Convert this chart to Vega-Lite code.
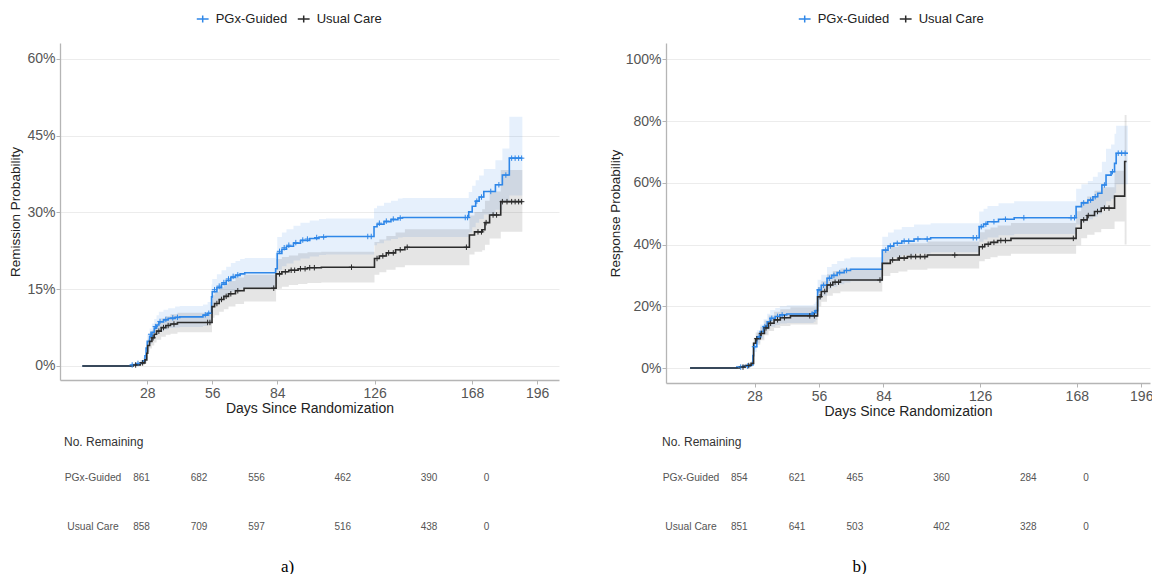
{
  "$schema": "https://vega.github.io/schema/vega-lite/v6.json",
  "background": "white",
  "padding": {"left": 8, "top": 12, "right": 0, "bottom": 0},
  "config": {
    "view": {"stroke": null},
    "font": "Liberation Sans",
    "axis": {
      "labelFont": "Liberation Sans", "labelFontSize": 14, "labelColor": "#555555",
      "titleFont": "Liberation Sans", "titleFontWeight": "normal", "titleColor": "#222222",
      "domainColor": "#b5b5b5", "domainWidth": 1.3, "tickColor": "#b5b5b5", "tickSize": 4,
      "gridColor": "#ececec", "gridWidth": 1
    },
    "legend": {"labelFont": "Liberation Sans"}
  },
  "datasets": {
    "km": [
      {"panel":"a","group":"PGx-Guided","day":0,"p":0,"lo":0,"hi":0},
      {"panel":"a","group":"PGx-Guided","day":21,"p":0.002,"lo":0,"hi":0.005},
      {"panel":"a","group":"PGx-Guided","day":23,"p":0.004,"lo":0.001,"hi":0.008},
      {"panel":"a","group":"PGx-Guided","day":25,"p":0.006,"lo":0.002,"hi":0.011},
      {"panel":"a","group":"PGx-Guided","day":26,"p":0.010,"lo":0.004,"hi":0.016},
      {"panel":"a","group":"PGx-Guided","day":27,"p":0.020,"lo":0.011,"hi":0.029},
      {"panel":"a","group":"PGx-Guided","day":27.5,"p":0.035,"lo":0.024,"hi":0.047},
      {"panel":"a","group":"PGx-Guided","day":28,"p":0.048,"lo":0.035,"hi":0.062},
      {"panel":"a","group":"PGx-Guided","day":29,"p":0.058,"lo":0.043,"hi":0.073},
      {"panel":"a","group":"PGx-Guided","day":30,"p":0.066,"lo":0.050,"hi":0.083},
      {"panel":"a","group":"PGx-Guided","day":31,"p":0.074,"lo":0.057,"hi":0.092},
      {"panel":"a","group":"PGx-Guided","day":32,"p":0.080,"lo":0.062,"hi":0.099},
      {"panel":"a","group":"PGx-Guided","day":33,"p":0.086,"lo":0.067,"hi":0.106},
      {"panel":"a","group":"PGx-Guided","day":35,"p":0.090,"lo":0.071,"hi":0.110},
      {"panel":"a","group":"PGx-Guided","day":37,"p":0.093,"lo":0.074,"hi":0.113},
      {"panel":"a","group":"PGx-Guided","day":40,"p":0.095,"lo":0.075,"hi":0.116},
      {"panel":"a","group":"PGx-Guided","day":42,"p":0.096,"lo":0.076,"hi":0.117},
      {"panel":"a","group":"PGx-Guided","day":52,"p":0.099,"lo":0.078,"hi":0.120},
      {"panel":"a","group":"PGx-Guided","day":54,"p":0.103,"lo":0.082,"hi":0.125},
      {"panel":"a","group":"PGx-Guided","day":55.7,"p":0.135,"lo":0.111,"hi":0.159},
      {"panel":"a","group":"PGx-Guided","day":56,"p":0.145,"lo":0.120,"hi":0.170},
      {"panel":"a","group":"PGx-Guided","day":58,"p":0.153,"lo":0.127,"hi":0.179},
      {"panel":"a","group":"PGx-Guided","day":60,"p":0.160,"lo":0.133,"hi":0.187},
      {"panel":"a","group":"PGx-Guided","day":62,"p":0.167,"lo":0.139,"hi":0.194},
      {"panel":"a","group":"PGx-Guided","day":64,"p":0.173,"lo":0.145,"hi":0.201},
      {"panel":"a","group":"PGx-Guided","day":66,"p":0.177,"lo":0.148,"hi":0.205},
      {"panel":"a","group":"PGx-Guided","day":68,"p":0.180,"lo":0.151,"hi":0.209},
      {"panel":"a","group":"PGx-Guided","day":70,"p":0.182,"lo":0.153,"hi":0.211},
      {"panel":"a","group":"PGx-Guided","day":83.3,"p":0.190,"lo":0.160,"hi":0.220},
      {"panel":"a","group":"PGx-Guided","day":84,"p":0.220,"lo":0.188,"hi":0.252},
      {"panel":"a","group":"PGx-Guided","day":86,"p":0.228,"lo":0.195,"hi":0.261},
      {"panel":"a","group":"PGx-Guided","day":88,"p":0.234,"lo":0.200,"hi":0.267},
      {"panel":"a","group":"PGx-Guided","day":91,"p":0.240,"lo":0.206,"hi":0.274},
      {"panel":"a","group":"PGx-Guided","day":94,"p":0.245,"lo":0.210,"hi":0.280},
      {"panel":"a","group":"PGx-Guided","day":98,"p":0.249,"lo":0.214,"hi":0.284},
      {"panel":"a","group":"PGx-Guided","day":102,"p":0.252,"lo":0.217,"hi":0.287},
      {"panel":"a","group":"PGx-Guided","day":105,"p":0.253,"lo":0.218,"hi":0.288},
      {"panel":"a","group":"PGx-Guided","day":125.7,"p":0.272,"lo":0.236,"hi":0.308},
      {"panel":"a","group":"PGx-Guided","day":127,"p":0.277,"lo":0.240,"hi":0.313},
      {"panel":"a","group":"PGx-Guided","day":130,"p":0.282,"lo":0.245,"hi":0.319},
      {"panel":"a","group":"PGx-Guided","day":133,"p":0.286,"lo":0.248,"hi":0.323},
      {"panel":"a","group":"PGx-Guided","day":136,"p":0.289,"lo":0.251,"hi":0.327},
      {"panel":"a","group":"PGx-Guided","day":138,"p":0.290,"lo":0.252,"hi":0.328},
      {"panel":"a","group":"PGx-Guided","day":166.5,"p":0.301,"lo":0.261,"hi":0.340},
      {"panel":"a","group":"PGx-Guided","day":168,"p":0.312,"lo":0.271,"hi":0.352},
      {"panel":"a","group":"PGx-Guided","day":169.5,"p":0.322,"lo":0.280,"hi":0.363},
      {"panel":"a","group":"PGx-Guided","day":171,"p":0.330,"lo":0.287,"hi":0.372},
      {"panel":"a","group":"PGx-Guided","day":173,"p":0.341,"lo":0.296,"hi":0.385},
      {"panel":"a","group":"PGx-Guided","day":178,"p":0.354,"lo":0.305,"hi":0.402},
      {"panel":"a","group":"PGx-Guided","day":181,"p":0.373,"lo":0.320,"hi":0.425},
      {"panel":"a","group":"PGx-Guided","day":184,"p":0.406,"lo":0.333,"hi":0.487},
      {"panel":"a","group":"PGx-Guided","day":189.6,"p":0.406,"lo":0.333,"hi":0.487},
      {"panel":"a","group":"Usual Care","day":0,"p":0,"lo":0,"hi":0},
      {"panel":"a","group":"Usual Care","day":22,"p":0.002,"lo":0,"hi":0.005},
      {"panel":"a","group":"Usual Care","day":25,"p":0.006,"lo":0.002,"hi":0.011},
      {"panel":"a","group":"Usual Care","day":27,"p":0.012,"lo":0.005,"hi":0.019},
      {"panel":"a","group":"Usual Care","day":27.8,"p":0.025,"lo":0.015,"hi":0.035},
      {"panel":"a","group":"Usual Care","day":28.2,"p":0.040,"lo":0.028,"hi":0.053},
      {"panel":"a","group":"Usual Care","day":29,"p":0.048,"lo":0.034,"hi":0.062},
      {"panel":"a","group":"Usual Care","day":30,"p":0.055,"lo":0.040,"hi":0.070},
      {"panel":"a","group":"Usual Care","day":31,"p":0.062,"lo":0.046,"hi":0.078},
      {"panel":"a","group":"Usual Care","day":32,"p":0.068,"lo":0.051,"hi":0.085},
      {"panel":"a","group":"Usual Care","day":34,"p":0.075,"lo":0.057,"hi":0.093},
      {"panel":"a","group":"Usual Care","day":36,"p":0.079,"lo":0.061,"hi":0.097},
      {"panel":"a","group":"Usual Care","day":38,"p":0.082,"lo":0.063,"hi":0.101},
      {"panel":"a","group":"Usual Care","day":41,"p":0.085,"lo":0.066,"hi":0.104},
      {"panel":"a","group":"Usual Care","day":55.9,"p":0.116,"lo":0.094,"hi":0.138},
      {"panel":"a","group":"Usual Care","day":57,"p":0.122,"lo":0.099,"hi":0.145},
      {"panel":"a","group":"Usual Care","day":59,"p":0.130,"lo":0.106,"hi":0.154},
      {"panel":"a","group":"Usual Care","day":61,"p":0.136,"lo":0.111,"hi":0.161},
      {"panel":"a","group":"Usual Care","day":63,"p":0.141,"lo":0.116,"hi":0.166},
      {"panel":"a","group":"Usual Care","day":66,"p":0.147,"lo":0.121,"hi":0.173},
      {"panel":"a","group":"Usual Care","day":69.7,"p":0.152,"lo":0.126,"hi":0.178},
      {"panel":"a","group":"Usual Care","day":83.5,"p":0.180,"lo":0.151,"hi":0.209},
      {"panel":"a","group":"Usual Care","day":86,"p":0.184,"lo":0.155,"hi":0.213},
      {"panel":"a","group":"Usual Care","day":89,"p":0.187,"lo":0.158,"hi":0.216},
      {"panel":"a","group":"Usual Care","day":93,"p":0.190,"lo":0.160,"hi":0.220},
      {"panel":"a","group":"Usual Care","day":97,"p":0.192,"lo":0.162,"hi":0.222},
      {"panel":"a","group":"Usual Care","day":103,"p":0.193,"lo":0.163,"hi":0.223},
      {"panel":"a","group":"Usual Care","day":125.9,"p":0.210,"lo":0.178,"hi":0.242},
      {"panel":"a","group":"Usual Care","day":128,"p":0.215,"lo":0.183,"hi":0.247},
      {"panel":"a","group":"Usual Care","day":131,"p":0.221,"lo":0.188,"hi":0.254},
      {"panel":"a","group":"Usual Care","day":135,"p":0.227,"lo":0.193,"hi":0.261},
      {"panel":"a","group":"Usual Care","day":139,"p":0.232,"lo":0.197,"hi":0.267},
      {"panel":"a","group":"Usual Care","day":166.8,"p":0.256,"lo":0.218,"hi":0.294},
      {"panel":"a","group":"Usual Care","day":169,"p":0.262,"lo":0.223,"hi":0.301},
      {"panel":"a","group":"Usual Care","day":172.3,"p":0.266,"lo":0.226,"hi":0.306},
      {"panel":"a","group":"Usual Care","day":173.5,"p":0.280,"lo":0.237,"hi":0.323},
      {"panel":"a","group":"Usual Care","day":175.5,"p":0.295,"lo":0.249,"hi":0.341},
      {"panel":"a","group":"Usual Care","day":180.3,"p":0.321,"lo":0.262,"hi":0.383},
      {"panel":"a","group":"Usual Care","day":189.6,"p":0.321,"lo":0.262,"hi":0.383},
      {"panel":"b","group":"PGx-Guided","day":0,"p":0,"lo":0,"hi":0},
      {"panel":"b","group":"PGx-Guided","day":20.3,"p":0.003,"lo":0,"hi":0.007},
      {"panel":"b","group":"PGx-Guided","day":23,"p":0.006,"lo":0.001,"hi":0.011},
      {"panel":"b","group":"PGx-Guided","day":26,"p":0.010,"lo":0.003,"hi":0.017},
      {"panel":"b","group":"PGx-Guided","day":27.3,"p":0.040,"lo":0.027,"hi":0.053},
      {"panel":"b","group":"PGx-Guided","day":27.6,"p":0.069,"lo":0.052,"hi":0.086},
      {"panel":"b","group":"PGx-Guided","day":29,"p":0.101,"lo":0.080,"hi":0.122},
      {"panel":"b","group":"PGx-Guided","day":30.5,"p":0.118,"lo":0.095,"hi":0.141},
      {"panel":"b","group":"PGx-Guided","day":31.9,"p":0.134,"lo":0.110,"hi":0.158},
      {"panel":"b","group":"PGx-Guided","day":33.5,"p":0.150,"lo":0.124,"hi":0.176},
      {"panel":"b","group":"PGx-Guided","day":34.8,"p":0.161,"lo":0.134,"hi":0.188},
      {"panel":"b","group":"PGx-Guided","day":37,"p":0.167,"lo":0.139,"hi":0.194},
      {"panel":"b","group":"PGx-Guided","day":39,"p":0.172,"lo":0.144,"hi":0.200},
      {"panel":"b","group":"PGx-Guided","day":42,"p":0.175,"lo":0.146,"hi":0.203},
      {"panel":"b","group":"PGx-Guided","day":53.7,"p":0.179,"lo":0.150,"hi":0.208},
      {"panel":"b","group":"PGx-Guided","day":54.5,"p":0.186,"lo":0.156,"hi":0.215},
      {"panel":"b","group":"PGx-Guided","day":55.4,"p":0.253,"lo":0.220,"hi":0.286},
      {"panel":"b","group":"PGx-Guided","day":57,"p":0.268,"lo":0.234,"hi":0.302},
      {"panel":"b","group":"PGx-Guided","day":59.5,"p":0.291,"lo":0.255,"hi":0.327},
      {"panel":"b","group":"PGx-Guided","day":61.5,"p":0.300,"lo":0.263,"hi":0.337},
      {"panel":"b","group":"PGx-Guided","day":63.9,"p":0.309,"lo":0.271,"hi":0.347},
      {"panel":"b","group":"PGx-Guided","day":67,"p":0.316,"lo":0.277,"hi":0.355},
      {"panel":"b","group":"PGx-Guided","day":69.7,"p":0.320,"lo":0.281,"hi":0.359},
      {"panel":"b","group":"PGx-Guided","day":83.5,"p":0.382,"lo":0.339,"hi":0.425},
      {"panel":"b","group":"PGx-Guided","day":86,"p":0.395,"lo":0.351,"hi":0.439},
      {"panel":"b","group":"PGx-Guided","day":88.5,"p":0.404,"lo":0.359,"hi":0.449},
      {"panel":"b","group":"PGx-Guided","day":92,"p":0.411,"lo":0.365,"hi":0.457},
      {"panel":"b","group":"PGx-Guided","day":97.3,"p":0.418,"lo":0.371,"hi":0.465},
      {"panel":"b","group":"PGx-Guided","day":104.5,"p":0.422,"lo":0.375,"hi":0.469},
      {"panel":"b","group":"PGx-Guided","day":125.6,"p":0.458,"lo":0.409,"hi":0.507},
      {"panel":"b","group":"PGx-Guided","day":127.5,"p":0.466,"lo":0.416,"hi":0.516},
      {"panel":"b","group":"PGx-Guided","day":129.2,"p":0.474,"lo":0.423,"hi":0.525},
      {"panel":"b","group":"PGx-Guided","day":134,"p":0.482,"lo":0.430,"hi":0.534},
      {"panel":"b","group":"PGx-Guided","day":140.8,"p":0.487,"lo":0.434,"hi":0.540},
      {"panel":"b","group":"PGx-Guided","day":167.7,"p":0.523,"lo":0.465,"hi":0.581},
      {"panel":"b","group":"PGx-Guided","day":170,"p":0.535,"lo":0.475,"hi":0.595},
      {"panel":"b","group":"PGx-Guided","day":172.8,"p":0.544,"lo":0.482,"hi":0.606},
      {"panel":"b","group":"PGx-Guided","day":175,"p":0.555,"lo":0.490,"hi":0.620},
      {"panel":"b","group":"PGx-Guided","day":177.1,"p":0.566,"lo":0.498,"hi":0.634},
      {"panel":"b","group":"PGx-Guided","day":178.9,"p":0.593,"lo":0.518,"hi":0.668},
      {"panel":"b","group":"PGx-Guided","day":180.7,"p":0.625,"lo":0.540,"hi":0.710},
      {"panel":"b","group":"PGx-Guided","day":182.9,"p":0.636,"lo":0.548,"hi":0.724},
      {"panel":"b","group":"PGx-Guided","day":184.4,"p":0.663,"lo":0.567,"hi":0.759},
      {"panel":"b","group":"PGx-Guided","day":185.1,"p":0.696,"lo":0.595,"hi":0.785},
      {"panel":"b","group":"PGx-Guided","day":190.2,"p":0.696,"lo":0.595,"hi":0.785},
      {"panel":"b","group":"Usual Care","day":0,"p":0,"lo":0,"hi":0},
      {"panel":"b","group":"Usual Care","day":21.5,"p":0.003,"lo":0,"hi":0.007},
      {"panel":"b","group":"Usual Care","day":24,"p":0.008,"lo":0.002,"hi":0.014},
      {"panel":"b","group":"Usual Care","day":26.5,"p":0.015,"lo":0.007,"hi":0.023},
      {"panel":"b","group":"Usual Care","day":27.6,"p":0.080,"lo":0.062,"hi":0.098},
      {"panel":"b","group":"Usual Care","day":28.5,"p":0.095,"lo":0.075,"hi":0.115},
      {"panel":"b","group":"Usual Care","day":30.5,"p":0.112,"lo":0.090,"hi":0.134},
      {"panel":"b","group":"Usual Care","day":32.3,"p":0.130,"lo":0.106,"hi":0.154},
      {"panel":"b","group":"Usual Care","day":34.1,"p":0.145,"lo":0.120,"hi":0.170},
      {"panel":"b","group":"Usual Care","day":36.5,"p":0.156,"lo":0.130,"hi":0.182},
      {"panel":"b","group":"Usual Care","day":39.2,"p":0.163,"lo":0.136,"hi":0.190},
      {"panel":"b","group":"Usual Care","day":43.6,"p":0.169,"lo":0.141,"hi":0.197},
      {"panel":"b","group":"Usual Care","day":55.4,"p":0.231,"lo":0.200,"hi":0.262},
      {"panel":"b","group":"Usual Care","day":57,"p":0.248,"lo":0.215,"hi":0.281},
      {"panel":"b","group":"Usual Care","day":59.5,"p":0.269,"lo":0.234,"hi":0.304},
      {"panel":"b","group":"Usual Care","day":62,"p":0.278,"lo":0.242,"hi":0.314},
      {"panel":"b","group":"Usual Care","day":65.3,"p":0.285,"lo":0.248,"hi":0.322},
      {"panel":"b","group":"Usual Care","day":83.5,"p":0.339,"lo":0.298,"hi":0.380},
      {"panel":"b","group":"Usual Care","day":87,"p":0.350,"lo":0.308,"hi":0.392},
      {"panel":"b","group":"Usual Care","day":90.5,"p":0.356,"lo":0.313,"hi":0.399},
      {"panel":"b","group":"Usual Care","day":94.4,"p":0.361,"lo":0.318,"hi":0.404},
      {"panel":"b","group":"Usual Care","day":103.1,"p":0.366,"lo":0.322,"hi":0.410},
      {"panel":"b","group":"Usual Care","day":125.6,"p":0.393,"lo":0.346,"hi":0.440},
      {"panel":"b","group":"Usual Care","day":128,"p":0.401,"lo":0.353,"hi":0.449},
      {"panel":"b","group":"Usual Care","day":130.5,"p":0.407,"lo":0.359,"hi":0.455},
      {"panel":"b","group":"Usual Care","day":133.6,"p":0.413,"lo":0.364,"hi":0.462},
      {"panel":"b","group":"Usual Care","day":139.4,"p":0.420,"lo":0.370,"hi":0.470},
      {"panel":"b","group":"Usual Care","day":167.7,"p":0.453,"lo":0.398,"hi":0.508},
      {"panel":"b","group":"Usual Care","day":169.9,"p":0.480,"lo":0.420,"hi":0.540},
      {"panel":"b","group":"Usual Care","day":172.5,"p":0.494,"lo":0.432,"hi":0.556},
      {"panel":"b","group":"Usual Care","day":175.7,"p":0.507,"lo":0.440,"hi":0.574},
      {"panel":"b","group":"Usual Care","day":178.6,"p":0.518,"lo":0.450,"hi":0.586},
      {"panel":"b","group":"Usual Care","day":184.4,"p":0.557,"lo":0.475,"hi":0.639},
      {"panel":"b","group":"Usual Care","day":188.8,"p":0.669,"lo":0.400,"hi":0.820},
      {"panel":"b","group":"Usual Care","day":189.6,"p":0.669,"lo":0.400,"hi":0.820}
    ],
    "cens": [
      {"panel":"a","group":"PGx-Guided","day":21.5,"p":0.002},{"panel":"a","group":"PGx-Guided","day":24,"p":0.005},
      {"panel":"a","group":"PGx-Guided","day":29.5,"p":0.062},{"panel":"a","group":"PGx-Guided","day":31.5,"p":0.077},
      {"panel":"a","group":"PGx-Guided","day":33.5,"p":0.087},{"panel":"a","group":"PGx-Guided","day":36,"p":0.091},
      {"panel":"a","group":"PGx-Guided","day":39,"p":0.094},{"panel":"a","group":"PGx-Guided","day":41,"p":0.095},
      {"panel":"a","group":"PGx-Guided","day":53,"p":0.100},{"panel":"a","group":"PGx-Guided","day":54.5,"p":0.103},
      {"panel":"a","group":"PGx-Guided","day":57,"p":0.149},{"panel":"a","group":"PGx-Guided","day":59,"p":0.156},
      {"panel":"a","group":"PGx-Guided","day":61,"p":0.163},{"panel":"a","group":"PGx-Guided","day":63,"p":0.170},
      {"panel":"a","group":"PGx-Guided","day":65,"p":0.175},{"panel":"a","group":"PGx-Guided","day":67,"p":0.178},
      {"panel":"a","group":"PGx-Guided","day":85,"p":0.224},{"panel":"a","group":"PGx-Guided","day":87,"p":0.231},
      {"panel":"a","group":"PGx-Guided","day":89,"p":0.236},{"panel":"a","group":"PGx-Guided","day":92,"p":0.241},
      {"panel":"a","group":"PGx-Guided","day":95,"p":0.246},{"panel":"a","group":"PGx-Guided","day":97,"p":0.248},
      {"panel":"a","group":"PGx-Guided","day":101,"p":0.251},{"panel":"a","group":"PGx-Guided","day":104,"p":0.252},
      {"panel":"a","group":"PGx-Guided","day":123,"p":0.253},{"panel":"a","group":"PGx-Guided","day":124.5,"p":0.253},
      {"panel":"a","group":"PGx-Guided","day":128,"p":0.279},{"panel":"a","group":"PGx-Guided","day":131,"p":0.283},
      {"panel":"a","group":"PGx-Guided","day":134,"p":0.287},{"panel":"a","group":"PGx-Guided","day":137,"p":0.289},
      {"panel":"a","group":"PGx-Guided","day":165,"p":0.290},{"panel":"a","group":"PGx-Guided","day":166,"p":0.290},
      {"panel":"a","group":"PGx-Guided","day":170,"p":0.322},{"panel":"a","group":"PGx-Guided","day":172,"p":0.330},
      {"panel":"a","group":"PGx-Guided","day":176,"p":0.341},{"panel":"a","group":"PGx-Guided","day":179.5,"p":0.354},
      {"panel":"a","group":"PGx-Guided","day":182.5,"p":0.373},{"panel":"a","group":"PGx-Guided","day":185,"p":0.406},
      {"panel":"a","group":"PGx-Guided","day":186.5,"p":0.406},{"panel":"a","group":"PGx-Guided","day":188,"p":0.406},
      {"panel":"a","group":"PGx-Guided","day":189.3,"p":0.406},
      {"panel":"a","group":"Usual Care","day":23,"p":0.002},{"panel":"a","group":"Usual Care","day":26,"p":0.006},
      {"panel":"a","group":"Usual Care","day":30.5,"p":0.055},{"panel":"a","group":"Usual Care","day":33,"p":0.068},
      {"panel":"a","group":"Usual Care","day":35,"p":0.075},{"panel":"a","group":"Usual Care","day":37,"p":0.079},
      {"panel":"a","group":"Usual Care","day":39.5,"p":0.082},{"panel":"a","group":"Usual Care","day":54,"p":0.085},
      {"panel":"a","group":"Usual Care","day":55,"p":0.085},{"panel":"a","group":"Usual Care","day":58,"p":0.122},
      {"panel":"a","group":"Usual Care","day":60,"p":0.130},{"panel":"a","group":"Usual Care","day":62,"p":0.136},
      {"panel":"a","group":"Usual Care","day":64,"p":0.141},{"panel":"a","group":"Usual Care","day":67,"p":0.147},
      {"panel":"a","group":"Usual Care","day":82.5,"p":0.152},{"panel":"a","group":"Usual Care","day":85,"p":0.180},
      {"panel":"a","group":"Usual Care","day":87.5,"p":0.184},{"panel":"a","group":"Usual Care","day":90,"p":0.187},
      {"panel":"a","group":"Usual Care","day":91.5,"p":0.187},{"panel":"a","group":"Usual Care","day":94,"p":0.190},
      {"panel":"a","group":"Usual Care","day":96,"p":0.190},{"panel":"a","group":"Usual Care","day":98,"p":0.192},
      {"panel":"a","group":"Usual Care","day":100,"p":0.192},{"panel":"a","group":"Usual Care","day":116,"p":0.193},
      {"panel":"a","group":"Usual Care","day":127,"p":0.210},{"panel":"a","group":"Usual Care","day":129.5,"p":0.215},
      {"panel":"a","group":"Usual Care","day":132,"p":0.221},{"panel":"a","group":"Usual Care","day":134,"p":0.221},
      {"panel":"a","group":"Usual Care","day":137,"p":0.227},{"panel":"a","group":"Usual Care","day":140,"p":0.232},
      {"panel":"a","group":"Usual Care","day":165.5,"p":0.232},{"panel":"a","group":"Usual Care","day":170.5,"p":0.262},
      {"panel":"a","group":"Usual Care","day":172,"p":0.262},{"panel":"a","group":"Usual Care","day":174,"p":0.280},
      {"panel":"a","group":"Usual Care","day":177,"p":0.295},{"panel":"a","group":"Usual Care","day":178.5,"p":0.295},
      {"panel":"a","group":"Usual Care","day":181,"p":0.321},{"panel":"a","group":"Usual Care","day":183,"p":0.321},
      {"panel":"a","group":"Usual Care","day":185,"p":0.321},{"panel":"a","group":"Usual Care","day":186.5,"p":0.321},
      {"panel":"a","group":"Usual Care","day":188,"p":0.321},{"panel":"a","group":"Usual Care","day":189.3,"p":0.321},
      {"panel":"b","group":"PGx-Guided","day":22,"p":0.003},{"panel":"b","group":"PGx-Guided","day":25,"p":0.006},
      {"panel":"b","group":"PGx-Guided","day":28,"p":0.069},{"panel":"b","group":"PGx-Guided","day":30,"p":0.101},
      {"panel":"b","group":"PGx-Guided","day":32.5,"p":0.134},{"panel":"b","group":"PGx-Guided","day":35.5,"p":0.161},
      {"panel":"b","group":"PGx-Guided","day":38,"p":0.167},{"panel":"b","group":"PGx-Guided","day":40,"p":0.172},
      {"panel":"b","group":"PGx-Guided","day":53,"p":0.175},{"panel":"b","group":"PGx-Guided","day":54,"p":0.179},
      {"panel":"b","group":"PGx-Guided","day":56,"p":0.253},{"panel":"b","group":"PGx-Guided","day":58,"p":0.268},
      {"panel":"b","group":"PGx-Guided","day":60.5,"p":0.291},{"panel":"b","group":"PGx-Guided","day":62.5,"p":0.300},
      {"panel":"b","group":"PGx-Guided","day":65,"p":0.309},{"panel":"b","group":"PGx-Guided","day":68,"p":0.316},
      {"panel":"b","group":"PGx-Guided","day":85,"p":0.382},{"panel":"b","group":"PGx-Guided","day":87,"p":0.395},
      {"panel":"b","group":"PGx-Guided","day":90,"p":0.404},{"panel":"b","group":"PGx-Guided","day":93,"p":0.411},
      {"panel":"b","group":"PGx-Guided","day":95,"p":0.411},{"panel":"b","group":"PGx-Guided","day":99,"p":0.418},
      {"panel":"b","group":"PGx-Guided","day":103,"p":0.418},{"panel":"b","group":"PGx-Guided","day":123,"p":0.422},
      {"panel":"b","group":"PGx-Guided","day":124.5,"p":0.422},{"panel":"b","group":"PGx-Guided","day":126.5,"p":0.458},
      {"panel":"b","group":"PGx-Guided","day":128.5,"p":0.466},{"panel":"b","group":"PGx-Guided","day":132,"p":0.474},
      {"panel":"b","group":"PGx-Guided","day":137,"p":0.482},{"panel":"b","group":"PGx-Guided","day":145,"p":0.487},
      {"panel":"b","group":"PGx-Guided","day":165.5,"p":0.487},{"panel":"b","group":"PGx-Guided","day":167,"p":0.487},
      {"panel":"b","group":"PGx-Guided","day":171,"p":0.535},{"panel":"b","group":"PGx-Guided","day":174,"p":0.544},
      {"panel":"b","group":"PGx-Guided","day":176,"p":0.555},{"panel":"b","group":"PGx-Guided","day":180,"p":0.593},
      {"panel":"b","group":"PGx-Guided","day":183.5,"p":0.636},{"panel":"b","group":"PGx-Guided","day":186,"p":0.696},
      {"panel":"b","group":"PGx-Guided","day":187.5,"p":0.696},{"panel":"b","group":"PGx-Guided","day":189,"p":0.696},
      {"panel":"b","group":"Usual Care","day":23,"p":0.003},{"panel":"b","group":"Usual Care","day":25.5,"p":0.008},
      {"panel":"b","group":"Usual Care","day":29,"p":0.095},{"panel":"b","group":"Usual Care","day":31,"p":0.112},
      {"panel":"b","group":"Usual Care","day":33,"p":0.130},{"panel":"b","group":"Usual Care","day":35,"p":0.145},
      {"panel":"b","group":"Usual Care","day":38,"p":0.156},{"panel":"b","group":"Usual Care","day":41,"p":0.163},
      {"panel":"b","group":"Usual Care","day":52,"p":0.169},{"panel":"b","group":"Usual Care","day":54,"p":0.169},
      {"panel":"b","group":"Usual Care","day":56.5,"p":0.231},{"panel":"b","group":"Usual Care","day":58.5,"p":0.248},
      {"panel":"b","group":"Usual Care","day":61,"p":0.269},{"panel":"b","group":"Usual Care","day":63,"p":0.278},
      {"panel":"b","group":"Usual Care","day":64.5,"p":0.278},{"panel":"b","group":"Usual Care","day":82.5,"p":0.285},
      {"panel":"b","group":"Usual Care","day":88,"p":0.350},{"panel":"b","group":"Usual Care","day":91,"p":0.356},
      {"panel":"b","group":"Usual Care","day":93,"p":0.356},{"panel":"b","group":"Usual Care","day":96,"p":0.361},
      {"panel":"b","group":"Usual Care","day":98,"p":0.361},{"panel":"b","group":"Usual Care","day":100,"p":0.361},
      {"panel":"b","group":"Usual Care","day":102,"p":0.361},{"panel":"b","group":"Usual Care","day":115,"p":0.366},
      {"panel":"b","group":"Usual Care","day":127,"p":0.393},{"panel":"b","group":"Usual Care","day":129.5,"p":0.401},
      {"panel":"b","group":"Usual Care","day":132,"p":0.407},{"panel":"b","group":"Usual Care","day":135,"p":0.413},
      {"panel":"b","group":"Usual Care","day":137,"p":0.413},{"panel":"b","group":"Usual Care","day":166.5,"p":0.420},
      {"panel":"b","group":"Usual Care","day":171,"p":0.480},{"panel":"b","group":"Usual Care","day":173,"p":0.494},
      {"panel":"b","group":"Usual Care","day":177,"p":0.507},{"panel":"b","group":"Usual Care","day":180,"p":0.518},
      {"panel":"b","group":"Usual Care","day":182,"p":0.518}
    ],
    "tab": [
      {"panel":"a","group":"PGx-Guided","day":28,"n":861},{"panel":"a","group":"PGx-Guided","day":56,"n":682},
      {"panel":"a","group":"PGx-Guided","day":84,"n":556},{"panel":"a","group":"PGx-Guided","day":126,"n":462},
      {"panel":"a","group":"PGx-Guided","day":168,"n":390},{"panel":"a","group":"PGx-Guided","day":196,"n":0},
      {"panel":"a","group":"Usual Care","day":28,"n":858},{"panel":"a","group":"Usual Care","day":56,"n":709},
      {"panel":"a","group":"Usual Care","day":84,"n":597},{"panel":"a","group":"Usual Care","day":126,"n":516},
      {"panel":"a","group":"Usual Care","day":168,"n":438},{"panel":"a","group":"Usual Care","day":196,"n":0},
      {"panel":"b","group":"PGx-Guided","day":28,"n":854},{"panel":"b","group":"PGx-Guided","day":56,"n":621},
      {"panel":"b","group":"PGx-Guided","day":84,"n":465},{"panel":"b","group":"PGx-Guided","day":126,"n":360},
      {"panel":"b","group":"PGx-Guided","day":168,"n":284},{"panel":"b","group":"PGx-Guided","day":196,"n":0},
      {"panel":"b","group":"Usual Care","day":28,"n":851},{"panel":"b","group":"Usual Care","day":56,"n":641},
      {"panel":"b","group":"Usual Care","day":84,"n":503},{"panel":"b","group":"Usual Care","day":126,"n":402},
      {"panel":"b","group":"Usual Care","day":168,"n":328},{"panel":"b","group":"Usual Care","day":196,"n":0}
    ]
  },
  "columns": 2,
  "align": "each",
  "spacing": {"row": 18, "column": 49},
  "resolve": {"scale": {"color": "independent"}, "legend": {"color": "independent"}},
  "concat": [
    {
      "width": 499, "height": 337,
      "layer": [
        {
          "data": {"name": "km"}, "transform": [{"filter": "datum.panel === 'a'"}],
          "mark": {"type": "area", "interpolate": "step-after", "fillOpacity": 0.12},
          "encoding": {
            "x": {"field": "day", "type": "quantitative", "title": "Days Since Randomization", "scale": {"domain": [-9.6, 205.4], "nice": false, "zero": false}, "axis": {"values": [28, 56, 84, 126, 168, 196], "grid": false, "labelPadding": 2, "titlePadding": 1, "titleFontSize": 14}},
            "y": {"field": "lo", "type": "quantitative", "title": "Remission Probability", "scale": {"domain": [-0.0274, 0.631], "nice": false, "zero": false}, "axis": {"values": [0, 0.15, 0.3, 0.45, 0.6], "format": ".0%", "grid": true, "labelPadding": 1, "titlePadding": 4.5, "titleFontSize": 13.5}},
            "y2": {"field": "hi"},
            "color": {"field": "group", "type": "nominal", "scale": {"domain": ["PGx-Guided", "Usual Care"], "range": ["#2f87e8", "#2b2b2b"]}}
          }
        },
        {
          "data": {"name": "km"}, "transform": [{"filter": "datum.panel === 'a'"}],
          "mark": {"type": "line", "interpolate": "step-after", "strokeWidth": 1.6},
          "encoding": {
            "x": {"field": "day", "type": "quantitative", "title": "Days Since Randomization"},
            "y": {"field": "p", "type": "quantitative", "title": "Remission Probability"},
            "color": {"field": "group", "type": "nominal", "scale": {"domain": ["PGx-Guided", "Usual Care"], "range": ["#2f87e8", "#2b2b2b"]},
              "legend": {"orient": "none", "legendX": 135.7, "legendY": -31, "direction": "horizontal", "title": null, "symbolType": "M-1,0H1M0,-0.6V0.6", "symbolSize": 140, "symbolStrokeWidth": 1.5, "symbolOpacity": 1, "labelFontSize": 13, "labelColor": "#222222", "labelOffset": 6, "columnPadding": 7}}
          }
        },
        {
          "data": {"name": "cens"}, "transform": [{"filter": "datum.panel === 'a'"}],
          "mark": {"type": "point", "shape": "M0,-1V1M-1,0H1", "size": 30, "filled": false, "strokeWidth": 1, "opacity": 1},
          "encoding": {
            "x": {"field": "day", "type": "quantitative", "title": "Days Since Randomization"},
            "y": {"field": "p", "type": "quantitative", "title": "Remission Probability"},
            "color": {"field": "group", "type": "nominal", "scale": {"domain": ["PGx-Guided", "Usual Care"], "range": ["#2f87e8", "#2b2b2b"]}}
          }
        }
      ]
    },
    {
      "width": 484, "height": 340,
      "layer": [
        {
          "data": {"name": "km"}, "transform": [{"filter": "datum.panel === 'b'"}],
          "mark": {"type": "area", "interpolate": "step-after", "fillOpacity": 0.12},
          "encoding": {
            "x": {"field": "day", "type": "quantitative", "title": "Days Since Randomization", "scale": {"domain": [-10.45, 199.8], "nice": false, "zero": false}, "axis": {"values": [28, 56, 84, 126, 168, 196], "grid": false, "labelPadding": 2, "titlePadding": 1, "titleFontSize": 14}},
            "y": {"field": "lo", "type": "quantitative", "title": "Response Probability", "scale": {"domain": [-0.0486, 1.053], "nice": false, "zero": false}, "axis": {"values": [0, 0.2, 0.4, 0.6, 0.8, 1.0], "format": ".0%", "grid": true, "labelPadding": 1, "titlePadding": 2.5, "titleFontSize": 13.5}},
            "y2": {"field": "hi"},
            "color": {"field": "group", "type": "nominal", "scale": {"domain": ["PGx-Guided", "Usual Care"], "range": ["#2f87e8", "#2b2b2b"]}}
          }
        },
        {
          "data": {"name": "km"}, "transform": [{"filter": "datum.panel === 'b'"}],
          "mark": {"type": "line", "interpolate": "step-after", "strokeWidth": 1.6},
          "encoding": {
            "x": {"field": "day", "type": "quantitative", "title": "Days Since Randomization"},
            "y": {"field": "p", "type": "quantitative", "title": "Response Probability"},
            "color": {"field": "group", "type": "nominal", "scale": {"domain": ["PGx-Guided", "Usual Care"], "range": ["#2f87e8", "#2b2b2b"]},
              "legend": {"orient": "none", "legendX": 131.7, "legendY": -31, "direction": "horizontal", "title": null, "symbolType": "M-1,0H1M0,-0.6V0.6", "symbolSize": 140, "symbolStrokeWidth": 1.5, "symbolOpacity": 1, "labelFontSize": 13, "labelColor": "#222222", "labelOffset": 6, "columnPadding": 7}}
          }
        },
        {
          "data": {"name": "cens"}, "transform": [{"filter": "datum.panel === 'b'"}],
          "mark": {"type": "point", "shape": "M0,-1V1M-1,0H1", "size": 30, "filled": false, "strokeWidth": 1, "opacity": 1},
          "encoding": {
            "x": {"field": "day", "type": "quantitative", "title": "Days Since Randomization"},
            "y": {"field": "p", "type": "quantitative", "title": "Response Probability"},
            "color": {"field": "group", "type": "nominal", "scale": {"domain": ["PGx-Guided", "Usual Care"], "range": ["#2f87e8", "#2b2b2b"]}}
          }
        }
      ]
    },
    {
      "width": 499, "height": 98,
      "data": {"name": "tab"}, "transform": [{"filter": "datum.panel === 'a'"}],
      "title": {"text": "No. Remaining", "anchor": "start", "frame": "group", "orient": "top", "fontSize": 12, "fontWeight": "normal", "color": "#333333", "offset": 4, "dx": 4},
      "mark": {"type": "text", "fontSize": 10, "color": "#555555"},
      "encoding": {
        "x": {"field": "day", "type": "quantitative", "scale": {"domain": [-11.69, 231.3], "nice": false, "zero": false}, "axis": {"title": "a)", "labels": false, "ticks": false, "domain": false, "grid": false, "titleFont": "Liberation Serif", "titleFontSize": 17, "titleColor": "#000000", "titleX": 227, "titlePadding": 7}},
        "y": {"field": "group", "type": "nominal", "scale": {"type": "point", "domain": ["PGx-Guided", "Usual Care"], "padding": 0.5}, "axis": {"title": null, "domain": false, "ticks": false, "grid": false, "labelAlign": "center", "labelPadding": -32.5, "labelFontSize": 10.3, "labelColor": "#555555"}},
        "text": {"field": "n", "type": "quantitative"}
      }
    },
    {
      "width": 484, "height": 98,
      "data": {"name": "tab"}, "transform": [{"filter": "datum.panel === 'b'"}],
      "title": {"text": "No. Remaining", "anchor": "start", "frame": "group", "orient": "top", "fontSize": 12, "fontWeight": "normal", "color": "#333333", "offset": 4, "dx": -4},
      "mark": {"type": "text", "fontSize": 10, "color": "#555555"},
      "encoding": {
        "x": {"field": "day", "type": "quantitative", "scale": {"domain": [-7.5, 227.0], "nice": false, "zero": false}, "axis": {"title": "b)", "labels": false, "ticks": false, "domain": false, "grid": false, "titleFont": "Liberation Serif", "titleFontSize": 17, "titleColor": "#000000", "titleX": 193, "titlePadding": 7}},
        "y": {"field": "group", "type": "nominal", "scale": {"type": "point", "domain": ["PGx-Guided", "Usual Care"], "padding": 0.5}, "axis": {"title": null, "domain": false, "ticks": false, "grid": false, "labelAlign": "center", "labelPadding": -24.5, "labelFontSize": 10.3, "labelColor": "#555555"}},
        "text": {"field": "n", "type": "quantitative"}
      }
    }
  ]
}
